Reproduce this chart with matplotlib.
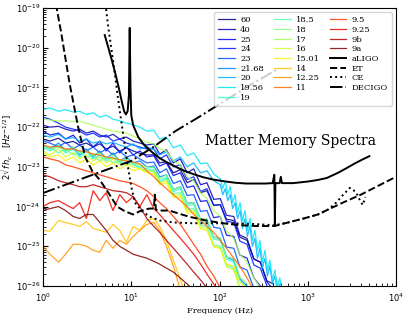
import numpy as np
import matplotlib.pyplot as plt

# frequency grid shared by the spectra (Hz)
freq = [1.0, 1.2, 1.5, 1.8, 2.2, 2.6, 3.1, 3.7, 4.4, 5.2, 6.2, 7.4, 8.8, 10.5, 12.5, 15, 18, 21,
        25, 30, 36, 43, 51, 61, 72, 86, 102, 120, 145, 170, 205, 245, 290, 345, 410, 490]
# denser tail used for the two cyan spectra
freq_tail = [102, 109, 116, 124, 132, 141, 150, 160, 171, 182, 194, 207, 221, 236, 252, 269,
             287, 306, 327, 349, 372, 397, 424, 452, 482, 514]

labels = ['60', '40', '25', '24', '23', '21.68', '20', '19.56', '19', '18.5', '18', '17', '16',
          '15.01', '14', '12.25', '11', '9.5', '9.25', '9b', '9a']

# log10 of 2 sqrt(f) h_c
spec = {
    '60': [-22.3, -22.35, -22.28, -22.4, -22.36, -22.45, -22.4, -22.5, -22.42, -22.55, -22.48, -22.6,
           -22.52, -22.6, -22.66, -22.7, -22.7, -22.9, -22.87, -23.15, -23.07, -23.4, -23.32, -23.65,
           -23.6, -23.97, -23.95, -24.32, -24.35, -24.77, -24.85, -25.32, -25.4, -25.87, -25.95],
    '40': [-21.95, -22.0, -21.98, -22.05, -22.1, -22.05, -22.15, -22.1, -22.2, -22.25, -22.18, -22.3,
           -22.25, -22.35, -22.4, -22.45, -22.42, -22.68, -22.57, -22.9, -22.8, -23.15, -23.05, -23.45,
           -23.4, -23.82, -23.8, -24.22, -24.25, -24.72, -24.8, -25.32, -25.4, -25.9, -26.1],
    '25': [-22.1, -22.2, -22.15, -22.3, -22.2, -22.4, -22.3, -22.5, -22.35, -22.6, -22.4, -22.65,
           -22.5, -22.7, -22.6, -22.75, -22.72, -22.98, -22.9, -23.22, -23.15, -23.52, -23.48, -23.87,
           -23.85, -24.28, -24.25, -24.72, -24.75, -25.22, -25.3, -25.8, -26.0],
    '24': [-21.75, -21.8, -21.9, -22.0, -22.05, -22.1, -22.2, -22.15, -22.25, -22.2, -22.35, -22.3,
           -22.4, -22.45, -22.5, -22.55, -22.55, -22.8, -22.7, -23.0, -22.95, -23.32, -23.25, -23.62,
           -23.55, -23.97, -23.95, -24.37, -24.4, -24.87, -24.95, -25.47, -25.55, -26.0],
    '23': [-22.35, -22.4, -22.5, -22.38, -22.55, -22.45, -22.6, -22.5, -22.65, -22.55, -22.7, -22.6,
           -22.75, -22.7, -22.8, -22.9, -22.88, -23.15, -23.05, -23.42, -23.35, -23.72, -23.7, -24.12,
           -24.1, -24.52, -24.55, -25.02, -25.05, -25.52, -25.6, -26.05],
    '21.68': [-22.45, -22.55, -22.4, -22.6, -22.5, -22.7, -22.55, -22.75, -22.6, -22.8, -22.65, -22.85,
              -22.75, -22.9, -22.85, -23.0, -22.98, -23.25, -23.2, -23.57, -23.5, -23.92, -23.9, -24.32,
              -24.35, -24.77, -24.8, -25.27, -25.35, -25.82, -26.0],
    '20': [-22.2, -22.25, -22.18, -22.3, -22.26, -22.35, -22.3, -22.4, -22.36, -22.42, -22.38, -22.45,
           -22.5, -22.42, -22.55, -22.5, -22.55, -22.7, -22.62, -22.85, -22.75, -23.0, -22.9, -23.15,
           -23.1, -23.35],
    '19.56': [-21.55, -21.52, -21.6, -21.56, -21.62, -21.6, -21.68, -21.64, -21.75, -21.7, -21.8, -21.84,
              -21.9, -21.94, -22.0, -22.1, -22.08, -22.3, -22.25, -22.52, -22.45, -22.72, -22.65, -22.92,
              -22.9, -23.18],
    '19': [-22.5, -22.6, -22.45, -22.65, -22.55, -22.75, -22.6, -22.8, -22.7, -22.85, -22.75, -22.9,
           -22.8, -22.95, -23.0, -23.05, -23.08, -23.35, -23.27, -23.62, -23.55, -23.97, -23.95, -24.37,
           -24.4, -24.82, -24.85, -25.32, -25.4, -25.87, -26.05],
    '18.5': [-22.55, -22.5, -22.65, -22.55, -22.7, -22.6, -22.75, -22.7, -22.85, -22.75, -22.9, -22.85,
             -22.95, -22.9, -23.05, -23.1, -23.12, -23.4, -23.3, -23.67, -23.65, -24.07, -24.05, -24.47,
             -24.5, -24.97, -25.0, -25.47, -25.55, -26.05],
    '18': [-22.45, -22.55, -22.5, -22.6, -22.5, -22.65, -22.6, -22.7, -22.65, -22.8, -22.7, -22.85,
           -22.8, -22.9, -22.95, -23.0, -23.02, -23.3, -23.2, -23.57, -23.5, -23.92, -23.9, -24.32,
           -24.3, -24.77, -24.8, -25.27, -25.3, -25.77, -25.95],
    '17': [-21.8, -21.82, -21.85, -21.84, -21.86, -21.85, -21.9, -21.95, -22.0, -22.05, -22.1, -22.12,
           -22.15, -22.22, -22.3, -22.38, -22.42, -22.55, -22.6, -22.85, -22.95, -23.25, -23.35, -23.65,
           -23.8, -24.1, -24.25, -24.62, -24.8, -25.2, -25.4, -25.8, -26.05],
    '16': [-22.6, -22.7, -22.55, -22.75, -22.65, -22.8, -22.7, -22.85, -22.75, -22.9, -22.8, -22.95,
           -22.9, -23.0, -23.05, -23.1, -23.12, -23.4, -23.35, -23.72, -23.7, -24.12, -24.1, -24.52,
           -24.55, -25.02, -25.05, -25.52, -25.6, -26.05],
    '15.01': [-22.65, -22.75, -22.7, -22.85, -22.75, -22.9, -22.8, -22.95, -22.85, -23.0, -22.9, -23.05,
              -22.95, -23.1, -23.05, -23.15, -23.18, -23.45, -23.4, -23.77, -23.75, -24.17, -24.15,
              -24.57, -24.6, -25.0, -25.05, -25.45, -25.5, -25.9, -26.05],
    '14': [-24.6, -24.62, -24.35, -24.4, -24.45, -24.5, -24.38, -24.55, -24.6, -24.65, -24.45, -24.6,
           -24.9, -24.5, -24.6, -24.35, -24.3, -24.5, -24.85, -25.35, -25.85, -26.3],
    '12.25': [-25.0, -25.2, -25.4, -25.2, -24.95, -24.95, -25.0, -25.1, -25.15, -24.85, -25.05, -24.85,
              -24.95, -24.75, -24.6, -24.45, -24.4, -24.6, -25.0, -25.5, -26.1],
    '11': [-22.45, -22.5, -22.48, -22.55, -22.55, -22.6, -22.62, -22.68, -22.7, -22.75, -22.78, -22.82,
           -22.85, -22.88, -22.92, -23.1, -23.25, -23.4, -23.55, -23.7, -23.85, -24.0, -24.2, -24.35,
           -24.5, -24.65, -24.85, -25.05, -25.3, -25.5, -25.8, -26.1],
    '9.5': [-22.75, -22.8, -22.85, -22.95, -23.0, -23.05, -23.1, -23.15, -23.2, -23.25, -23.3, -23.35,
            -23.38, -23.42, -23.5, -23.6, -23.75, -23.9, -24.05, -24.25, -24.45, -24.7, -24.95, -25.2,
            -25.5, -25.75, -26.05],
    '9.25': [-24.0, -23.9, -23.85, -23.95, -24.05, -23.9, -24.3, -23.6, -23.85, -23.65, -24.1, -23.7,
             -23.9, -23.75, -24.0, -23.7, -24.05, -24.2, -24.4, -24.6, -24.8, -25.0, -25.2, -25.45,
             -25.7, -25.95, -26.2],
    '9b': [-23.2, -23.25, -23.35, -23.4, -23.45, -23.5, -23.5, -23.45, -23.5, -23.55, -23.6, -23.62,
           -23.65, -23.75, -24.0, -24.3, -24.5, -24.65, -24.85, -25.05, -25.25, -25.45, -25.65, -25.85,
           -26.05],
    '9a': [-24.1, -24.05, -24.0, -24.1, -24.25, -24.3, -24.2, -24.2, -24.4, -24.6, -24.85, -25.0,
           -25.1, -25.2, -25.25, -25.3, -25.38, -25.45, -25.55, -25.65, -25.8, -25.95, -26.1],
}
tails = {
    '20': [-23.45, -23.7, -23.55, -23.85, -23.7, -24.05, -23.9, -24.3, -24.1, -24.55, -24.3, -24.75,
           -24.5, -25.0, -24.8, -25.3, -25.05, -25.55, -25.3, -25.75, -25.5, -25.95, -25.75, -26.1,
           -25.95, -26.3],
    '19.56': [-23.3, -23.55, -23.35, -23.7, -23.5, -23.9, -23.7, -24.15, -23.9, -24.35, -24.1, -24.6,
              -24.3, -24.85, -24.6, -25.1, -24.85, -25.4, -25.1, -25.6, -25.35, -25.85, -25.6, -26.0,
              -25.8, -26.2],
}

# detector sensitivity curves (f in Hz, log10 value)
ligo_f = [5.0, 5.5, 6.0, 6.6, 7.2, 7.8, 8.3, 8.7, 9.1, 9.4, 9.6, 9.8, 10.0, 10.5, 12, 14, 17, 20, 25,
          32, 40, 50, 65, 85, 110, 150, 200, 260, 330, 400, 418, 424, 430, 480, 495, 510, 680, 1000,
          1300, 1645, 2200, 2760, 3500, 4300, 5000]
ligo_h = [-19.68, -20.0, -20.3, -20.65, -21.0, -21.35, -21.6, -21.68, -21.6, -21.2, -19.5, -21.0, -21.7,
          -21.95, -22.25, -22.45, -22.62, -22.75, -22.88, -23.0, -23.1, -23.18, -23.26, -23.32, -23.36,
          -23.4, -23.42, -23.42, -23.42, -23.41, -23.2, -24.45, -23.41, -23.41, -23.25, -23.41, -23.41,
          -23.37, -23.33, -23.28, -23.15, -23.03, -22.9, -22.8, -22.73]
et_f = [1.4, 1.6, 2.0, 2.5, 3.0, 3.6, 4.4, 5.5, 6.9, 8.5, 10.5, 13, 16, 18, 18.5, 19, 22, 27, 35, 46,
        70, 110, 170, 260, 420, 600, 900, 1300, 1645, 2500, 4000, 6000, 10000]
et_h = [-18.9, -19.6, -20.9, -22.0, -22.75, -23.1, -23.33, -23.65, -24.0, -24.12, -24.2, -24.1, -24.05,
        -24.05, -23.7, -24.08, -24.1, -24.1, -24.18, -24.26, -24.35, -24.42, -24.47, -24.49, -24.49,
        -24.4, -24.3, -24.2, -24.09, -23.9, -23.7, -23.5, -23.25]
ce_f = [5.1, 5.5, 6.2, 7.1, 8.0, 8.9, 10, 11, 13, 16, 21, 30, 50, 100, 200, 300, 420, 600, 900, 1300,
        1645, 2100, 2500, 3000, 3500, 3900, 4200, 4500]
ce_h = [-18.9, -19.5, -20.3, -21.3, -22.1, -22.83, -23.5, -23.9, -24.1, -24.25, -24.35, -24.4, -24.42,
        -24.42, -24.43, -24.45, -24.47, -24.4, -24.3, -24.2, -24.1, -23.9, -23.71, -23.53, -23.63,
        -23.84, -23.96, -23.76]
decigo_f = [1.0, 1.8, 3.16, 5.6, 10, 17.8, 31.6, 56, 100, 200, 447]
decigo_h = [-23.66, -23.45, -23.25, -23.05, -22.85, -22.5, -22.1, -21.77, -21.42, -21.0, -20.55]

fig = plt.figure(figsize=(4.07, 3.14), dpi=100)
ax = fig.add_axes([0.1057, 0.0892, 0.8673, 0.8853])

colors = plt.cm.jet(np.linspace(0, 1, len(labels)))
for lab, c in zip(labels, colors):
    f = list(freq[:len(spec[lab])])
    h = list(spec[lab])
    if lab in tails:
        f = f + freq_tail
        h = h + tails[lab]
    ax.plot(f, 10 ** np.array(h), color=c, alpha=0.85, lw=0.9, label=lab)

ax.plot(ligo_f, 10 ** np.array(ligo_h), color='k', lw=1.4, label='aLIGO')
ax.plot(et_f, 10 ** np.array(et_h), color='k', ls='--', lw=1.4, label='ET')
ax.plot(ce_f, 10 ** np.array(ce_h), color='k', ls=':', lw=1.4, label='CE')
ax.plot(decigo_f, 10 ** np.array(decigo_h), color='k', ls='-.', lw=1.4, label='DECIGO')

ax.set_xscale('log')
ax.set_yscale('log')
ax.set_xlim(1, 1e4)
ax.set_ylim(1e-26, 1e-19)
ax.tick_params(which='both', direction='in', labelsize=6)
ax.tick_params(axis='y', pad=2)
ax.tick_params(axis='x', pad=4)
ax.tick_params(which='major', length=3.5)
ax.tick_params(which='minor', length=2)

ax.set_xlabel('Frequency (Hz)', family='serif', fontsize=6, labelpad=2)
ax.set_ylabel(r'$2\sqrt{f}h_c\ \ \ [Hz^{-1/2}]$', fontsize=6)
ax.yaxis.set_label_coords(-0.082, 0.5)
ax.text(0.459, 0.507, 'Matter Memory Spectra', transform=ax.transAxes, family='serif',
        fontsize=10, va='baseline')

ax.legend(ncol=3, loc='upper right', prop={'family': 'serif', 'size': 6}, labelspacing=0.2,
          columnspacing=1.2, handletextpad=0.6, borderpad=0.5)

plt.savefig('out.png', dpi=100)
